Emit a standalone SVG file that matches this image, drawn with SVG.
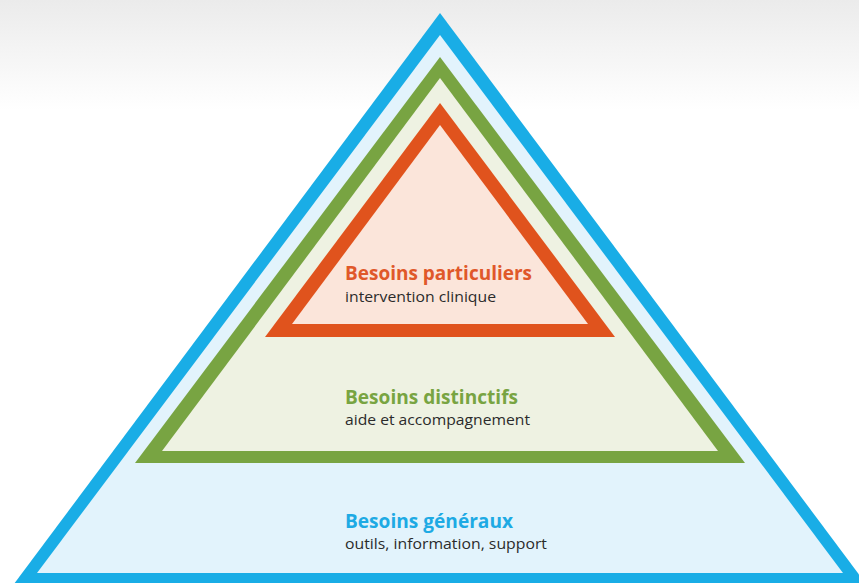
<svg xmlns="http://www.w3.org/2000/svg" width="859" height="583" viewBox="0 0 859 583">
  <defs>
    <linearGradient id="bg" x1="0" y1="0" x2="0" y2="110" gradientUnits="userSpaceOnUse">
      <stop offset="0" stop-color="#ebebeb"/>
      <stop offset="1" stop-color="#ffffff"/>
    </linearGradient>
    <style>
      .h { font-family: "Open Sans", "Noto Sans", "Liberation Sans", sans-serif; font-weight: 700; font-size: 19px; }
      .s { font-family: "Open Sans", "Noto Sans", "Liberation Sans", sans-serif; font-weight: 400; font-size: 15px; fill: #2b2b2b; }
    </style>
  </defs>
  <rect x="0" y="0" width="859" height="583" fill="url(#bg)"/>

  <g id="level-general">
    <polygon points="440,13 2,600 878,600" fill="#19ade6"/>
    <polygon points="440,35 37,573 843,573" fill="#e2f3fc"/>
    <text class="h" x="345" y="528" fill="#1eaae4" textLength="168" lengthAdjust="spacingAndGlyphs">Besoins généraux</text>
    <text class="s" x="345" y="549" textLength="202" lengthAdjust="spacingAndGlyphs">outils, information, support</text>
  </g>

  <g id="level-distinctif">
    <polygon points="440,57 135,463 745,463" fill="#78a442"/>
    <polygon points="440,78 162,451 718,451" fill="#eef2e2"/>
    <text class="h" x="345" y="404" fill="#78a442" textLength="173" lengthAdjust="spacingAndGlyphs">Besoins distinctifs</text>
    <text class="s" x="345" y="425" textLength="185" lengthAdjust="spacingAndGlyphs">aide et accompagnement</text>
  </g>

  <g id="level-particulier">
    <polygon points="440,103 265,337 615,337" fill="#e0531d"/>
    <polygon points="440,125 292,324 588,324" fill="#fbe5da"/>
    <text class="h" x="345" y="280" fill="#e0582a" textLength="187" lengthAdjust="spacingAndGlyphs">Besoins particuliers</text>
    <text class="s" x="345" y="302" textLength="151" lengthAdjust="spacingAndGlyphs">intervention clinique</text>
  </g>

  <g id="connectors"/>
</svg>
